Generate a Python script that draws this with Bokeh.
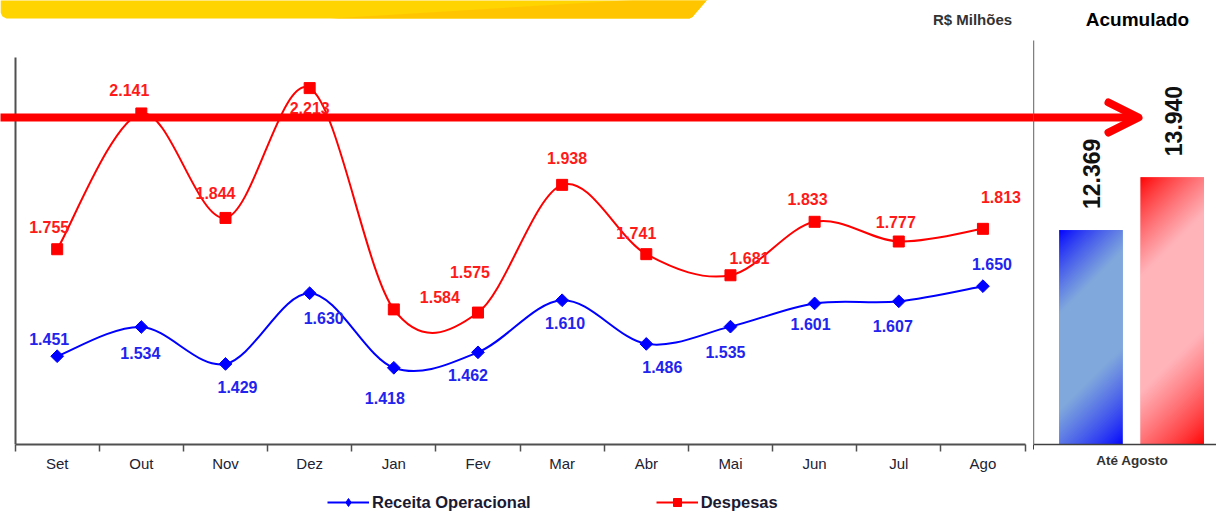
import numpy as np
from bokeh.plotting import figure
from bokeh.models import (Range1d, FixedTicker, ColumnDataSource, Legend, LegendItem,
                          Label, Arrow, OpenHead)
from bokeh.layouts import row, column
from bokeh.embed import file_html
from bokeh.resources import INLINE
from bokeh.core.properties import value

# ---------------- data (R$ milhões) ----------------
months = ["Set", "Out", "Nov", "Dez", "Jan", "Fev", "Mar", "Abr", "Mai", "Jun", "Jul", "Ago"]
receita = [1451, 1534, 1429, 1630, 1418, 1462, 1610, 1486, 1535, 1601, 1607, 1650]
despesas = [1755, 2141, 1844, 2213, 1584, 1575, 1938, 1741, 1681, 1833, 1777, 1813]
acum_series = ["Receita Operacional", "Despesas"]
acum_values = [12369, 13940]
acum_period = "Até Agosto"

# ---------------- label offsets (pixels, style only) ----------------
rec_dx = [-8, -1, 12, 14, -9, -10, 3, 16, -5, -4, -6, 9]
rec_dy = [-17, 26, 23, 25, 30, 23, 23, 23, 25, 21, 25, -22]
des_dx = [-8, -12, -10, 0, 46, -8, 5, -10, 19, -7, -3, 18]
des_dy = [-22, -23, -25, 20, -12, -41, -27, -21, -17, -23, -20, -32]

FONT = value("Liberation Sans")
BLUE = "#0000FF"
RED = "#FF0000"
DIAMOND = dict(marker="square", angle=np.pi / 4, size=9, fill_color=BLUE, line_color=BLUE)
DIAMOND_LEG = dict(marker="diamond", size=12, fill_color=BLUE, line_color=BLUE)
SQUARE = dict(marker="square", size=11, fill_color=RED, line_color=RED)


def fmt(v):
    return f"{v:,}".replace(",", ".")


def bezier_source(xs, ys):
    xs = np.asarray(xs, float)
    ys = np.asarray(ys, float)
    n = len(xs)
    d = dict(x0=[], y0=[], x1=[], y1=[], cx0=[], cy0=[], cx1=[], cy1=[])
    for i in range(n - 1):
        im = max(i - 1, 0)
        ip2 = min(i + 2, n - 1)
        d["x0"].append(xs[i]); d["y0"].append(ys[i])
        d["x1"].append(xs[i + 1]); d["y1"].append(ys[i + 1])
        d["cx0"].append(xs[i] + (xs[i + 1] - xs[im]) / 6)
        d["cy0"].append(ys[i] + (ys[i + 1] - ys[im]) / 6)
        d["cx1"].append(xs[i + 1] - (xs[ip2] - xs[i]) / 6)
        d["cy1"].append(ys[i + 1] - (ys[ip2] - ys[i]) / 6)
    return ColumnDataSource(d)


def bare(fig):
    fig.outline_line_color = None
    fig.grid.visible = False
    return fig


xpos = list(range(1, len(months) + 1))
TOTAL_W = 1216
TOP_H, MID_H, BOT_H = 40, 434, 38
FRAME_H = 404            # both middle frames: page rows 40..444
AXIS_H = MID_H - FRAME_H

# ---------------- top strip: banner + headers ----------------
top = bare(figure(width=TOTAL_W, height=TOP_H, x_range=Range1d(0, TOTAL_W), y_range=Range1d(TOP_H, 0),
                  output_backend="svg", toolbar_location=None,
                  min_border_left=0, min_border_right=0, min_border_top=0, min_border_bottom=0))
top.axis.visible = False
top.patch(x=[0, 707, 694, 692, 689, 6, 2, 0], y=[-1, -1, 14, 16.5, 18, 18, 16, 12],
          fill_color="#FFD400", line_color=None)
top.patch(x=[330, 640, 707, 694, 692, 689], y=[18, -1, -1, 14, 16.5, 18],
          fill_color="#FFC600", line_color=None)
top.add_layout(Label(x=972, y=19, text="R$ Milhões", text_align="center", text_baseline="middle",
                     text_font="Liberation Sans", text_font_size="15px", text_font_style="bold",
                     text_color="#333333"))
top.add_layout(Label(x=1137, y=19, text="Acumulado", text_align="center", text_baseline="middle",
                     text_font="Liberation Sans", text_font_size="19px", text_font_style="bold",
                     text_color="#000000"))

# ---------------- left figure: monthly lines ----------------
CAT_PX = 84.16           # pixels per month
X0_PX = 14.6             # left edge of the month axis
LEFT_W = 1033
Y_LO, Y_HI = 1200, 2300
Y_HI_FROM_TOP = 17       # axis top sits 17 px below the frame top
y_top = Y_HI + Y_HI_FROM_TOP * (Y_HI - Y_LO) / float(FRAME_H - Y_HI_FROM_TOP)

p = bare(figure(width=LEFT_W, height=MID_H,
                x_range=Range1d(0.5 - X0_PX / CAT_PX, 0.5 + (LEFT_W - X0_PX) / CAT_PX),
                y_range=Range1d(Y_LO, y_top),
                output_backend="svg", toolbar_location=None,
                min_border_left=0, min_border_right=0, min_border_top=0,
                min_border_bottom=AXIS_H))

p.xaxis.bounds = (0.5, 12.5)
p.xaxis.ticker = FixedTicker(ticks=xpos, minor_ticks=[k + 0.5 for k in range(0, 13)])
p.xaxis.major_label_overrides = {x: m for x, m in zip(xpos, months)}
p.xaxis.major_tick_line_color = None
p.xaxis.major_tick_out = 0
p.xaxis.major_tick_in = 0
p.xaxis.minor_tick_line_color = "#505050"
p.xaxis.minor_tick_line_width = 1.5
p.xaxis.minor_tick_out = 7
p.xaxis.minor_tick_in = 0
p.xaxis.axis_line_color = "#505050"
p.xaxis.axis_line_width = 2
p.xaxis.major_label_standoff = 3
p.xaxis.major_label_text_font = "Liberation Sans"
p.xaxis.major_label_text_font_size = "15px"
p.xaxis.major_label_text_color = "#222233"

p.yaxis.fixed_location = 0.5
p.yaxis.bounds = (Y_LO, Y_HI)
p.yaxis.ticker = FixedTicker(ticks=[])
p.yaxis.major_tick_line_color = None
p.yaxis.minor_tick_line_color = None
p.yaxis.major_tick_out = 0
p.yaxis.major_label_standoff = 0
p.yaxis.major_label_text_font_size = "0px"
p.yaxis.axis_line_color = "#505050"
p.yaxis.axis_line_width = 2

ARROW_Y = FRAME_H - (117 - TOP_H)   # page row 117, screen units up from frame bottom

p.add_layout(Arrow(x_start=-5, y_start=ARROW_Y, x_end=LEFT_W + 10, y_end=ARROW_Y,
                   start_units="screen", end_units="screen", start=None, end=None,
                   line_color=RED, line_width=8))

# smooth lines
p.bezier(source=bezier_source(xpos, despesas), line_color=RED, line_width=2)
p.bezier(source=bezier_source(xpos, receita), line_color=BLUE, line_width=2)

s_des = p.scatter(xpos, despesas, **SQUARE)
s_rec = p.scatter(xpos, receita, **DIAMOND)

p.text(x=xpos, y=despesas, text=[fmt(v) for v in despesas], x_offset=des_dx, y_offset=des_dy,
       text_align="center", text_baseline="middle", text_font=FONT, text_font_style="bold",
       text_font_size="16px", text_color="#FF1A1A")
p.text(x=xpos, y=receita, text=[fmt(v) for v in receita], x_offset=rec_dx, y_offset=rec_dy,
       text_align="center", text_baseline="middle", text_font=FONT, text_font_style="bold",
       text_font_size="16px", text_color="#2323EE")

# ---------------- right figure: accumulated bars ----------------
RIGHT_W = TOTAL_W - LEFT_W
R_LO, R_HI = 6000, 18000
q = bare(figure(width=RIGHT_W, height=MID_H, x_range=Range1d(0, 100), y_range=Range1d(R_LO, R_HI),
                output_backend="svg", toolbar_location=None,
                min_border_left=0, min_border_right=0, min_border_top=0,
                min_border_bottom=AXIS_H))

q.add_layout(Arrow(x_start=-5, y_start=ARROW_Y, x_end=105, y_end=ARROW_Y,
                   start_units="screen", end_units="screen", start=None,
                   end=OpenHead(size=30, line_color=RED, line_width=8, line_cap="round",
                                line_join="round"),
                   line_color=RED, line_width=8))

bar_x = [31.4, 75.8]
bar_w = 34.7
edge_cols = [(0, 0, 255), (255, 0, 0)]
light_cols = [(128, 168, 220), (255, 180, 186)]
mid_cols = ["#6f8fe0", "#ff9aa2"]

q.vbar(x=bar_x, top=acum_values, bottom=R_LO, width=bar_w, fill_color=mid_cols, line_color=None)


def grad_img(edge, light, w, h):
    yy, xx = np.mgrid[0:h, 0:w]
    from_top = (h - 1 - yy)
    t = (xx + from_top) / float(w + h - 2)
    f = np.clip(t / 0.3, 0, 1) * np.clip((1 - t) / 0.35, 0, 1)
    f = f ** 0.8
    e = np.array(edge, float)
    li = np.array(light, float)
    rgb = e * (1 - f)[..., None] + li * f[..., None]
    img = np.empty((h, w), dtype=np.uint32)
    view = img.view(dtype=np.uint8).reshape((h, w, 4))
    view[..., 0:3] = np.round(rgb).astype(np.uint8)
    view[..., 3] = 255
    return img


px_per_unit = FRAME_H / float(R_HI - R_LO)
bar_px_w = int(round(bar_w * RIGHT_W / 100.0))
imgs = []
for v, ec, lc in zip(acum_values, edge_cols, light_cols):
    h = int(round((v - R_LO) * px_per_unit))
    imgs.append(grad_img(ec, lc, bar_px_w, h))
q.image_rgba(image=imgs, x=[b - bar_w / 2 for b in bar_x], y=[R_LO, R_LO],
             dw=[bar_w, bar_w], dh=[v - R_LO for v in acum_values])

q.text(x=bar_x, y=acum_values, text=[fmt(v) for v in acum_values], angle=np.pi / 2,
       text_align="left", text_baseline="middle", y_offset=-21, x_offset=1,
       text_font=FONT, text_font_style="bold", text_font_size="23px", text_color="#111111")

q.xaxis.ticker = FixedTicker(ticks=[54], minor_ticks=[0])
q.xaxis.major_label_overrides = {54: acum_period}
q.xaxis.major_tick_line_color = None
q.xaxis.major_tick_out = 0
q.xaxis.minor_tick_line_color = "#404040"
q.xaxis.minor_tick_out = 5
q.xaxis.minor_tick_in = 0
q.xaxis.axis_line_color = "#404040"
q.xaxis.axis_line_width = 1.5
q.xaxis.major_label_standoff = 3
q.xaxis.major_label_text_font = "Liberation Sans"
q.xaxis.major_label_text_font_size = "13.5px"
q.xaxis.major_label_text_font_style = "bold"
q.xaxis.major_label_text_color = "#333333"

q.yaxis.ticker = FixedTicker(ticks=[])
q.yaxis.major_tick_line_color = None
q.yaxis.minor_tick_line_color = None
q.yaxis.major_tick_out = 0
q.yaxis.major_label_standoff = 0
q.yaxis.major_label_text_font_size = "0px"
q.yaxis.axis_line_color = "#808080"
q.yaxis.axis_line_width = 1.5

# ---------------- bottom strip: legend ----------------
# proxies draw the same series, but the strip's ranges keep them out of view
bot = bare(figure(width=TOTAL_W, height=BOT_H, x_range=Range1d(0, 0.5), y_range=Range1d(0, 1),
                  output_backend="svg", toolbar_location=None,
                  min_border_left=0, min_border_right=0, min_border_top=0, min_border_bottom=0))
bot.axis.visible = False
lg_rec_l = bot.line(x=xpos, y=receita, line_color=BLUE, line_width=2)
lg_rec_m = bot.scatter(x=xpos, y=receita, **DIAMOND_LEG)
lg_des_l = bot.line(x=xpos, y=despesas, line_color=RED, line_width=2)
lg_des_m = bot.scatter(x=xpos, y=despesas, **SQUARE)
legend = Legend(items=[LegendItem(label=acum_series[0], renderers=[lg_rec_l, lg_rec_m]),
                       LegendItem(label=acum_series[1], renderers=[lg_des_l, lg_des_m])],
                orientation="horizontal", location=(327, 0), spacing=125,
                glyph_width=42, glyph_height=20, label_standoff=3, padding=0, margin=0,
                border_line_color=None, background_fill_alpha=0,
                label_text_font="Liberation Sans", label_text_font_size="16.5px",
                label_text_font_style="bold", label_text_color="#1a1a33")
bot.add_layout(legend)

layout = column(top, row(p, q, spacing=0), bot, spacing=0)
open("out.html", "w").write(file_html(layout, INLINE))
